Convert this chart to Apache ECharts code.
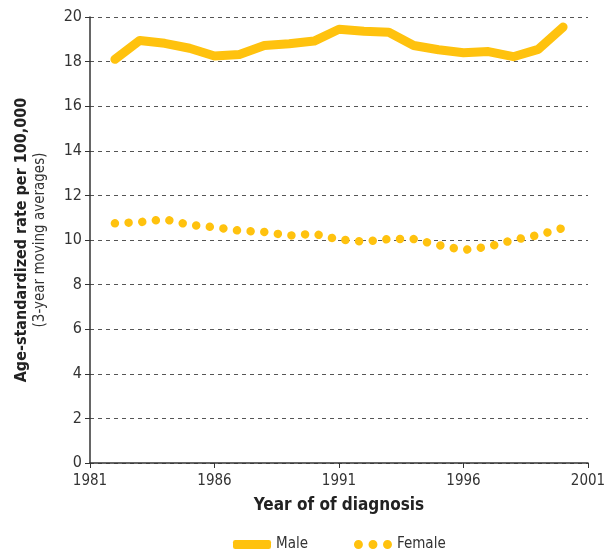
<!DOCTYPE html>
<html>
<head>
<meta charset="utf-8">
<script src="https://cdn.jsdelivr.net/npm/echarts@6/dist/echarts.min.js"></script>
<style>
html,body{margin:0;padding:0;background:#fff;}
#main{width:616px;height:550px;}
</style>
</head>
<body>
<div id="main"></div>
<script>
// years and rates
var years = [1982,1983,1984,1985,1986,1987,1988,1989,1990,1991,1992,1993,1994,1995,1996,1997,1998,1999,2000];
var male = [18.1,18.95,18.82,18.6,18.25,18.32,18.72,18.8,18.92,19.45,19.36,19.32,18.72,18.53,18.4,18.45,18.22,18.55,19.55];
var female = [10.75,10.8,10.93,10.68,10.57,10.42,10.36,10.2,10.28,10.02,9.93,10.04,10.04,9.77,9.55,9.7,10.0,10.22,10.54];
var xTicks = [1981,1986,1991,1996,2001];

var font = '"Liberation Sans Narrow","DejaVu Sans Condensed","Liberation Sans",Arial,sans-serif';
var yellow = '#FFC20E';

function pairs(vals) {
    return years.map(function (y, i) { return [y, vals[i]]; });
}

var myChart = echarts.init(document.getElementById('main'));
var option = {
    animation: false,
    grid: {left: 90, right: 28, top: 17, bottom: 87, containLabel: false},
    xAxis: {
        type: 'value',
        min: xTicks[0],
        max: xTicks[xTicks.length - 1],
        interval: 5,
        name: 'Year of of diagnosis',
        nameLocation: 'middle',
        nameGap: 34,
        nameTextStyle: {fontFamily: font, fontSize: 17, fontWeight: 'bold', color: '#222'},
        axisLine: {lineStyle: {color: '#333', width: 1.5}},
        axisTick: {show: true, length: 5, lineStyle: {color: '#333'}},
        axisLabel: {fontFamily: font, fontSize: 15, color: '#333', margin: 11,
            formatter: function (v) { return String(v); }},
        splitLine: {show: false}
    },
    yAxis: {
        type: 'value',
        min: 0,
        max: 20,
        interval: 2,
        name: '{b|Age-standardized rate per 100,000}\n{r|(3-year moving averages)}',
        nameLocation: 'middle',
        nameGap: 41,
        nameRotate: 90,
        nameTextStyle: {
            rich: {
                b: {fontFamily: font, fontSize: 16, fontWeight: 'bold', color: '#222', lineHeight: 18},
                r: {fontFamily: font, fontSize: 15, color: '#333', lineHeight: 18}
            }
        },
        axisLine: {show: true, lineStyle: {color: '#333', width: 1.5}},
        axisTick: {show: true, length: 5, lineStyle: {color: '#333'}},
        axisLabel: {fontFamily: font, fontSize: 16, color: '#333', margin: 8},
        splitLine: {show: true, lineStyle: {color: '#555', type: [4, 4], width: 1}}
    },
    legend: {
        top: 532,
        left: 228,
        itemGap: 46,
        textStyle: {fontFamily: font, fontSize: 15, color: '#333'},
        data: [
            {name: 'Male', icon: 'roundRect', itemStyle: {color: yellow}},
            {name: 'Female', icon: 'path://M4,0A4,4,0,1,1,4,8A4,4,0,1,1,4,0ZM17,0A4,4,0,1,1,17,8A4,4,0,1,1,17,0ZM30,0A4,4,0,1,1,30,8A4,4,0,1,1,30,0Z', itemStyle: {color: yellow}}
        ],
        itemWidth: 38,
        itemHeight: 9
    },
    series: [
        {
            name: 'Male',
            type: 'line',
            data: pairs(male),
            showSymbol: false,
            symbol: 'none',
            lineStyle: {color: yellow, width: 9, cap: 'round', join: 'round'},
            itemStyle: {color: yellow}
        },
        {
            name: 'Female',
            type: 'line',
            data: pairs(female),
            showSymbol: false,
            symbol: 'none',
            lineStyle: {color: yellow, width: 8.5, type: [0.01, 13.68], cap: 'round', join: 'round'},
            itemStyle: {color: yellow}
        }
    ]
};
myChart.setOption(option);
</script>
</body>
</html>
